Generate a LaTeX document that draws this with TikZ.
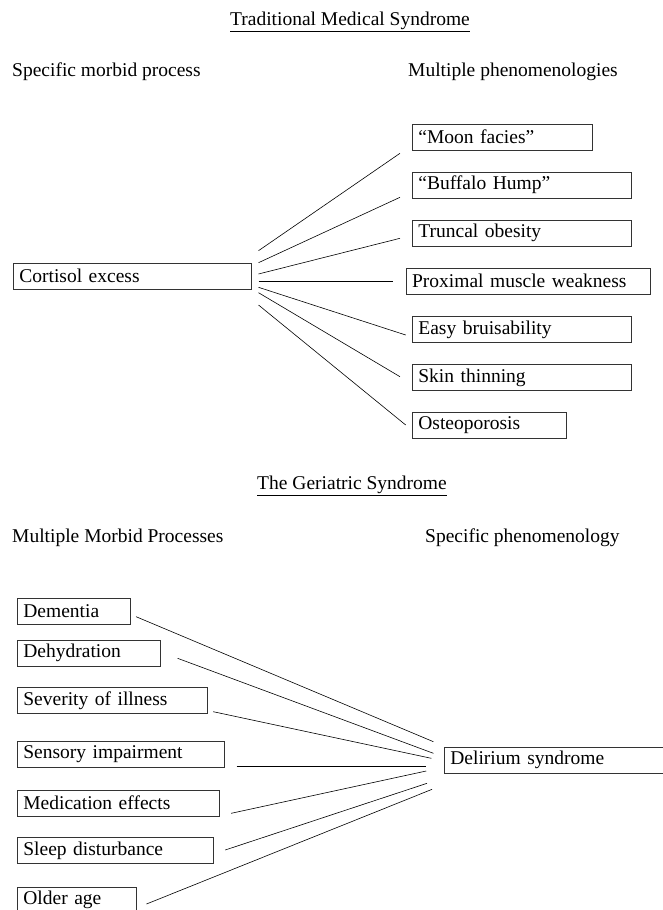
\documentclass[tikz,border=0pt]{standalone}
\usepackage{fontspec}
\setmainfont{Liberation Serif}
\usepackage{tikz}
\usetikzlibrary{positioning, calc}

\begin{document}
\begin{tikzpicture}[x=1pt, y=-1pt, font=\fontsize{19.5}{23}\selectfont]

            \tikzset{
                labelbox/.style={draw=black!80, line width=0.8pt, anchor=west, align=left, inner xsep=6pt, inner ysep=0pt, minimum height=26pt, text width=#1},
                heading/.style={inner sep=0pt},
                link/.style={line width=0.6pt}
            }

            \useasboundingbox (0,0) rectangle (663,910);

            % Traditional Medical Syndrome
            \node[heading] (title1) at (350,22) {\underline{Traditional Medical Syndrome}};
            \node[heading, anchor=west] (left1) at (12,72) {Specific morbid process};
            \node[heading, anchor=west] (right1) at (408,72) {Multiple phenomenologies};

            \node[labelbox=226pt] (cortisol) at (13,276) {Cortisol excess};
            \node[labelbox=168pt] (moon) at (412,137) {“Moon facies”};
            \node[labelbox=207pt] (buffalo) at (412,185) {“Buffalo Hump”};
            \node[labelbox=207pt] (truncal) at (412,233.3) {Truncal obesity};
            \node[labelbox=232pt] (proximal) at (405.7,281.3) {Proximal muscle weakness};
            \node[labelbox=207pt] (easy) at (412,329.5) {Easy bruisability};
            \node[labelbox=207pt] (skin) at (412,377.5) {Skin thinning};
            \node[labelbox=142pt] (osteo) at (412,425.5) {Osteoporosis};

            \path[link]
            ($(cortisol.east)+(6.7,-25.3)$) edge ($(moon.west)+(-12,16.3)$)
            ($(cortisol.east)+(6.7,-13.3)$) edge ($(buffalo.west)+(-12,12.3)$)
            ($(cortisol.east)+(6.7,-2)$) edge ($(truncal.west)+(-12,5)$)
            ($(cortisol.east)+(6.7,5)$) edge ($(proximal.west)+(-12.4,-0.3)$)
            ($(cortisol.east)+(6.7,11.3)$) edge ($(easy.west)+(-6.3,5.5)$)
            ($(cortisol.east)+(6.7,16.7)$) edge ($(skin.west)+(-12,-0.8)$)
            ($(cortisol.east)+(6.7,29)$) edge ($(osteo.west)+(-6.3,-0.5)$);

            % The Geriatric Syndrome
            \node[heading] (title2) at (352,486) {\underline{The Geriatric Syndrome}};
            \node[heading, anchor=west] (left2) at (12,538) {Multiple Morbid Processes};
            \node[heading, anchor=west] (right2) at (425,538) {Specific phenomenology};

            \node[labelbox=101pt] (dementia) at (17,611) {Dementia};
            \node[labelbox=130.5pt] (dehydration) at (17,653) {Dehydration};
            \node[labelbox=178pt] (severity) at (17,700.3) {Severity of illness};
            \node[labelbox=195pt] (sensory) at (17,754.5) {Sensory impairment};
            \node[labelbox=190pt] (medication) at (17,803) {Medication effects};
            \node[labelbox=184pt] (sleep) at (17,850.5) {Sleep disturbance};
            \node[labelbox=107pt] (older) at (17,900.3) {Older age};
            \node[labelbox=218pt] (delirium) at (444,760.2) {Delirium syndrome};

            \path[link]
            ($(dementia.east)+(5.3,5.7)$) edge ($(delirium.west)+(-10.6,-18.5)$)
            ($(dehydration.east)+(17.3,5.3)$) edge ($(delirium.west)+(-10.6,-6.9)$)
            ($(severity.east)+(5.5,11.4)$) edge ($(delirium.west)+(-12.7,-1.9)$)
            ($(sensory.east)+(11.9,11.5)$) edge ($(delirium.west)+(-17.8,5.8)$)
            ($(medication.east)+(11.4,10.3)$) edge ($(delirium.west)+(-17.8,10.8)$)
            ($(sleep.east)+(11.4,-0.5)$) edge ($(delirium.west)+(-17,23.1)$)
            ($(older.east)+(9.7,3.7)$) edge ($(delirium.west)+(-11.9,29.1)$);

\end{tikzpicture}
\end{document}
